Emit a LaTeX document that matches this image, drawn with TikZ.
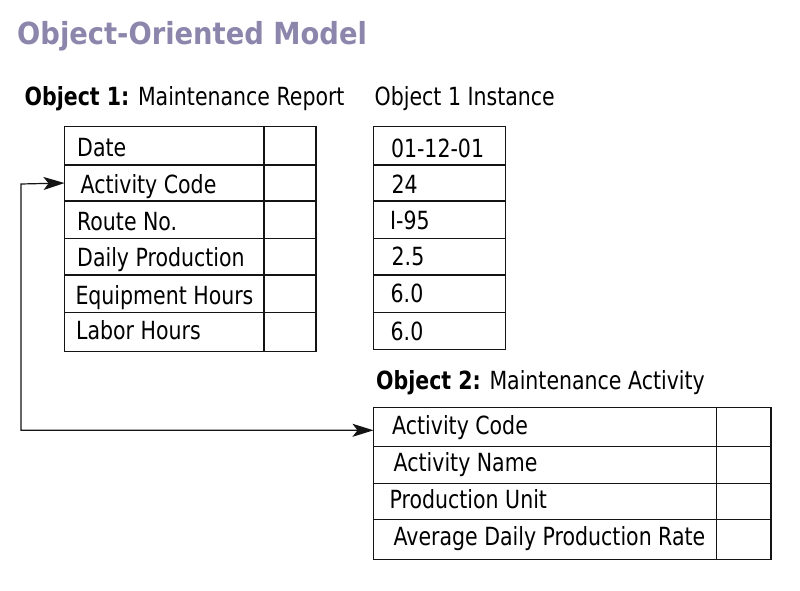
\documentclass[tikz,border=0pt]{standalone}
\usepackage{fontspec}
\setmainfont{DejaVu Sans Condensed}[FakeStretch=0.912]
\newfontfamily\titlefont{DejaVu Sans Condensed}
\usetikzlibrary{arrows.meta}
\definecolor{titlecol}{RGB}{140,134,172}
\definecolor{linecol}{RGB}{20,20,20}
\tikzset{
  cell/.style={draw=linecol, line width=1.2pt, minimum width=#1, inner sep=0pt, outer sep=0pt, anchor=north west},
  lbl/.style={anchor=base west, inner sep=0pt, font=\fontsize{25}{30}\selectfont},
  ttl/.style={anchor=base west, inner sep=0pt, font=\titlefont\bfseries\fontsize{30.4}{36}\selectfont, text=titlecol},
  conn/.style={draw=linecol, line width=1.2pt, {Stealth[length=21pt,width=13pt,inset=5pt]}-{Stealth[length=21pt,width=13pt,inset=5pt]}}
}
\begin{document}
\begin{tikzpicture}[x=1pt,y=-1pt]
\useasboundingbox[fill=white] (0,0) rectangle (800,591);
\node[ttl] (title) at (17,45) {Object-Oriented Model};

% headers
\node[lbl] (h1) at (24.5,106) {\textbf{Object 1:} Maintenance Report};
\node[lbl] (h2) at (374.5,106) {Object 1 Instance};
\node[lbl] (h3) at (376,389) {\textbf{Object 2:} Maintenance Activity};

% table 1 cells
\node[cell=199.5pt, minimum height=38.5pt] (t1a) at (64.5,126.5) {};
\node[cell=199.5pt, minimum height=36pt] (t1b) at (64.5,165) {};
\node[cell=199.5pt, minimum height=37.5pt] (t1c) at (64.5,201) {};
\node[cell=199.5pt, minimum height=36.5pt] (t1d) at (64.5,238.5) {};
\node[cell=199.5pt, minimum height=37.5pt] (t1e) at (64.5,275) {};
\node[cell=199.5pt, minimum height=39pt] (t1f) at (64.5,312.5) {};
\node[cell=52pt, minimum height=38.5pt] (v1a) at (264,126.5) {};
\node[cell=52pt, minimum height=36pt] (v1b) at (264,165) {};
\node[cell=52pt, minimum height=37.5pt] (v1c) at (264,201) {};
\node[cell=52pt, minimum height=36.5pt] (v1d) at (264,238.5) {};
\node[cell=52pt, minimum height=37.5pt] (v1e) at (264,275) {};
\node[cell=52pt, minimum height=39pt] (v1f) at (264,312.5) {};

\node[lbl] (l1a) at (77,157) {Date};
\node[lbl] (l1b) at (80.5,193.3) {Activity Code};
\node[lbl] (l1c) at (77,230.5) {Route No.};
\node[lbl] (l1d) at (77,266.7) {Daily Production};
\node[lbl] (l1e) at (75.3,304) {Equipment Hours};
\node[lbl] (l1f) at (76,339) {Labor Hours};

% instance table
\node[cell=132pt, minimum height=38.5pt] (i1a) at (373.5,126.5) {};
\node[cell=132pt, minimum height=36pt] (i1b) at (373.5,165) {};
\node[cell=132pt, minimum height=37.5pt] (i1c) at (373.5,201) {};
\node[cell=132pt, minimum height=36.5pt] (i1d) at (373.5,238.5) {};
\node[cell=132pt, minimum height=37.5pt] (i1e) at (373.5,275) {};
\node[cell=132pt, minimum height=37pt] (i1f) at (373.5,312.5) {};

\node[lbl] (n1a) at (390.8,157.3) {01-12-01};
\node[lbl] (n1b) at (391.5,193.3) {24};
\node[lbl] (n1c) at (390,229.3) {I-95};
\node[lbl] (n1d) at (391.5,265) {2.5};
\node[lbl] (n1e) at (390.5,302.7) {6.0};
\node[lbl] (n1f) at (390.5,340) {6.0};

% table 2
\node[cell=343pt, minimum height=39pt] (t2a) at (373.5,407.3) {};
\node[cell=343pt, minimum height=37pt] (t2b) at (373.5,446.3) {};
\node[cell=343pt, minimum height=36pt] (t2c) at (373.5,483.3) {};
\node[cell=343pt, minimum height=40.5pt] (t2d) at (373.5,519.3) {};
\node[cell=54.5pt, minimum height=39pt] (v2a) at (716.5,407.3) {};
\node[cell=54.5pt, minimum height=37pt] (v2b) at (716.5,446.3) {};
\node[cell=54.5pt, minimum height=36pt] (v2c) at (716.5,483.3) {};
\node[cell=54.5pt, minimum height=40.5pt] (v2d) at (716.5,519.3) {};

\node[lbl] (l2a) at (392,434) {Activity Code};
\node[lbl] (l2b) at (393.5,471.7) {Activity Name};
\node[lbl] (l2c) at (389.5,508.3) {Production Unit};
\node[lbl] (l2d) at (393.5,545) {Average Daily Production Rate};

% connector
\coordinate (corner) at (21,184);
\draw[conn] (t1b.west) -- (corner) |- ([yshift=-3.5pt]t2a.west);
\end{tikzpicture}
\end{document}
